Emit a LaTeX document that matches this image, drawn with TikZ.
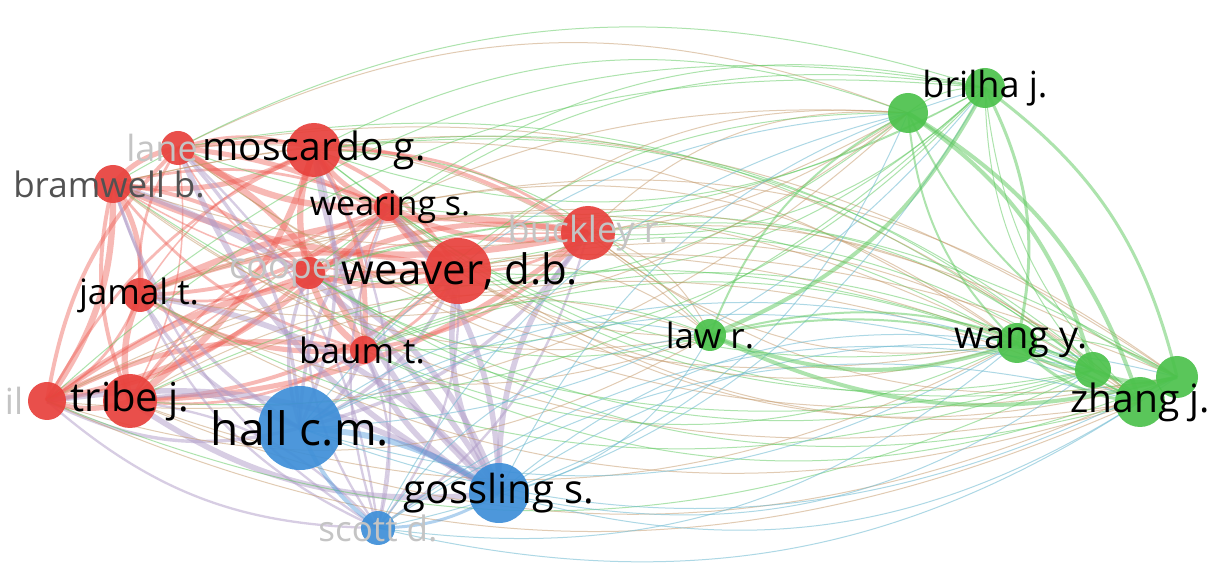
\documentclass[tikz,border=0pt]{standalone}
\usepackage{fontspec}
\setmainfont{Open Sans}
\usetikzlibrary{backgrounds}
\definecolor{vred}{HTML}{E8413C}
\definecolor{vblue}{HTML}{3E8FD8}
\definecolor{vgreen}{HTML}{4CC24C}
\definecolor{redge}{HTML}{EE5A50}
\definecolor{rbedge}{HTML}{B09CC8}
\definecolor{rgedge}{HTML}{C49868}
\definecolor{bgedge}{HTML}{6AB8D0}
\definecolor{gedge}{HTML}{5CC85C}
\definecolor{fadetxt}{HTML}{C4C4C4}
\newcommand{\fs}[1]{\fontsize{#1}{#1}\selectfont}
\begin{document}
\begin{tikzpicture}[x=0.5pt,y=-0.5pt,
  ball/.style={circle, inner sep=0pt, fill opacity=0.92},
  redball/.style={ball, fill=vred},
  blueball/.style={ball, fill=vblue},
  greenball/.style={ball, fill=vgreen},
  lbl/.style={inner sep=0pt, text=black},
  faded/.style={inner sep=0pt, text=fadetxt},
  rr/.style={draw=redge, draw opacity=0.42},
  rb/.style={draw=rbedge, draw opacity=0.5},
  rg/.style={draw=rgedge, draw opacity=0.5, line width=0.5pt},
  rgg/.style={draw=gedge, draw opacity=0.5, line width=0.5pt},
  bg/.style={draw=bgedge, draw opacity=0.55, line width=0.5pt},
  bb/.style={draw=vblue, draw opacity=0.4},
  gg/.style={draw=gedge, draw opacity=0.5}]
\useasboundingbox (0,0) rectangle (1211,582);

% red cluster
\node[redball, minimum size=17] (la) at (178,148) {};
\node[redball, minimum size=19] (br) at (113,184) {};
\node[redball, minimum size=27] (mo) at (314,150) {};
\node[redball, minimum size=14] (we) at (388,207) {};
\node[redball, minimum size=27] (bu) at (588,233) {};
\node[redball, minimum size=16] (co) at (309,273) {};
\node[redball, minimum size=33] (wv) at (458,271) {};
\node[redball, minimum size=17] (ja) at (140,295) {};
\node[redball, minimum size=14] (ba) at (364,350) {};
\node[redball, minimum size=19] (il) at (47,401) {};
\node[redball, minimum size=27] (tr) at (130,401) {};
% blue cluster
\node[blueball, minimum size=42] (ha) at (300,428) {};
\node[blueball, minimum size=30] (go) at (499,493) {};
\node[blueball, minimum size=17] (sc) at (378,528) {};
% green cluster
\node[greenball, minimum size=16] (lr) at (710,335) {};
\node[greenball, minimum size=20] (bj) at (985,88) {};
\node[greenball, minimum size=20] (g2) at (908,113) {};
\node[greenball, minimum size=20] (wy) at (1017,343) {};
\node[greenball, minimum size=18] (g3) at (1093,370) {};
\node[greenball, minimum size=21] (g4) at (1177,377) {};
\node[greenball, minimum size=25] (zh) at (1140,402) {};

\begin{scope}[on background layer]
  \fill[white] (0,0) rectangle (1211,582);
  % links inside the red cluster
  \foreach \a [count=\i] in {la,br,mo,we,bu,co,wv,ja,ba,il,tr}{
    \foreach \b [count=\j] in {la,br,mo,we,bu,co,wv,ja,ba,il,tr}{
      \ifnum\j>\i
        \pgfmathsetmacro\w{0.75+0.6*mod(\i*7+\j*3,5)}
        \pgfmathsetmacro\ang{ifthenelse(mod(\i+\j,2)==0,18,-18)}
        \draw[rr, line width=\w pt] (\a.center) to[bend left=\ang] (\b.center);
      \fi
    }
  }
  % red -- blue
  \foreach \a [count=\i] in {la,br,mo,we,bu,co,wv,ja,ba,il,tr}{
    \foreach \b [count=\j] in {ha,go,sc}{
      \pgfmathsetmacro\w{0.6+0.55*mod(\i*5+\j*2,5)}
      \pgfmathsetmacro\ang{ifthenelse(mod(\i+\j,2)==0,20,-20)}
      \draw[rb, line width=\w pt] (\a.center) to[bend left=\ang] (\b.center);
    }
  }
  % red -- green
  \foreach \a [count=\i] in {la,br,mo,we,bu,co,wv,ja,ba,il,tr}{
    \foreach \b [count=\j] in {lr,bj,g2,wy,g3,g4,zh}{
      \pgfmathsetmacro\ang{ifthenelse(mod(\i+\j,2)==0,24,-24)}
      \pgfmathtruncatemacro\k{mod(\i*\j+\i,3)}
      \ifnum\k=0
        \draw[rgg] (\a.center) to[bend left=\ang] (\b.center);
      \else
        \draw[rg] (\a.center) to[bend left=\ang] (\b.center);
      \fi
    }
  }
  % blue -- green
  \foreach \a [count=\i] in {ha,go,sc}{
    \foreach \b [count=\j] in {lr,bj,g2,wy,g3,g4,zh}{
      \pgfmathsetmacro\ang{ifthenelse(mod(\i+\j,2)==0,24,-24)}
      \draw[bg] (\a.center) to[bend left=\ang] (\b.center);
    }
  }
  % inside the blue cluster
  \draw[bb, line width=3pt] (ha.center) to[bend left=15] (go.center);
  \draw[bb, line width=2pt] (ha.center) to[bend right=15] (sc.center);
  \draw[bb, line width=1.5pt] (go.center) to[bend left=15] (sc.center);
  % inside the green cluster
  \foreach \a [count=\i] in {lr,bj,g2,wy,g3,g4,zh}{
    \foreach \b [count=\j] in {lr,bj,g2,wy,g3,g4,zh}{
      \ifnum\j>\i
        \pgfmathsetmacro\w{0.5+0.5*mod(\i*3+\j*2,4)}
        \pgfmathsetmacro\ang{ifthenelse(mod(\i+\j,2)==0,20,-20)}
        \draw[gg, line width=\w pt] (\a.center) to[bend left=\ang] (\b.center);
      \fi
    }
  }
\end{scope}

% labels
\node[faded, font=\fs{18}] at (162,148) {lane};
\node[faded, font=\fs{18}] at (bu) {buckley r.};
\node[faded, font=\fs{18}] at (288,273) {cooper};
\node[faded, font=\fs{18}] at (14,401) {il};
\node[faded, font=\fs{17.5}] at (sc) {scott d.};
\node[lbl, text=black!68, font=\fs{17.5}] at (109,184) {bramwell b.};
\node[lbl, font=\fs{19.5}] at (mo) {moscardo g.};
\node[lbl, font=\fs{17}] at (390,207) {wearing s.};
\node[lbl, font=\fs{21}] at (460,271) {weaver, d.b.};
\node[lbl, font=\fs{17.5}] at (139,295) {jamal t.};
\node[lbl, font=\fs{17.5}] at (362,350) {baum t.};
\node[lbl, font=\fs{20}] at (tr) {tribe j.};
\node[lbl, font=\fs{23}] at (ha) {hall c.m.};
\node[lbl, font=\fs{20}] at (go) {gossling s.};
\node[lbl, font=\fs{17.5}] at (lr) {law r.};
\node[lbl, font=\fs{18}] at (bj) {brilha j.};
\node[lbl, font=\fs{19}] at (1021,343) {wang y.};
\node[lbl, font=\fs{19.5}] at (zh) {zhang j.};
\end{tikzpicture}
\end{document}
